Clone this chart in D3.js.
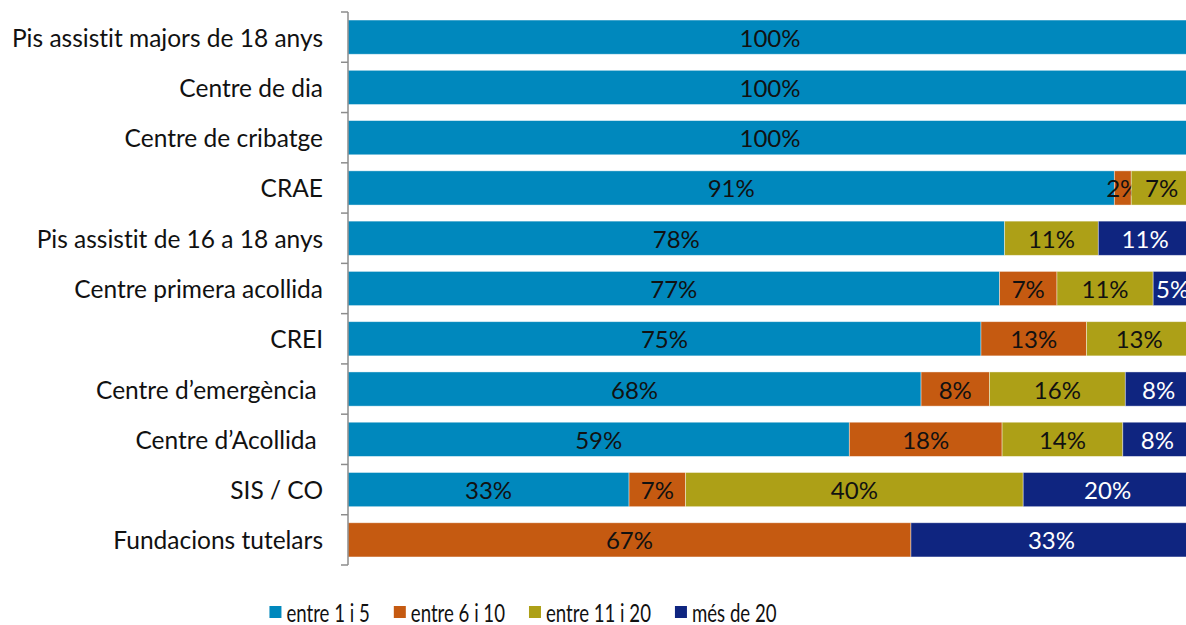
<!DOCTYPE html>
<html><head><meta charset="utf-8">
<script src="https://cdn.jsdelivr.net/npm/d3@7"></script>
<style>body{margin:0;background:#fff}svg{display:block}text{font-family:Lato,"Open Sans",sans-serif;font-variant-ligatures:none}text.cat{white-space:pre}</style>
</head><body><svg id="c" width="1186" height="625"></svg>
<script>
const categories = ["Pis assistit majors de 18 anys","Centre de dia","Centre de cribatge","CRAE","Pis assistit de 16 a 18 anys","Centre primera acollida","CREI","Centre d\u2019emergència ","Centre d\u2019Acollida ","SIS / CO","Fundacions tutelars"];
const seriesNames = ["entre 1 i 5","entre 6 i 10","entre 11 i 20","més de 20"];
const colors = ["#0088BD","#C55A11","#ADA017","#0F2580"];
const labelColors = ["#111","#111","#111","#fff"];
const s1 = [100,100,100,90.8,77.8,77.2,75,67.9,59.4,33.3,0];
const s2 = [0,0,0,2.0,0,6.8,12.5,8.1,18.1,6.7,66.7];
const s3 = [0,0,0,7.2,11.1,11.4,12.5,16.1,14.3,40,0];
const s4 = [0,0,0,0,11.1,4.6,0,7.9,8.2,20,33.3];
const seriesValues = [s1,s2,s3,s4];

const svg = d3.select("#c");
const mLeft = 348, mRight = 1192, mTop = 12, mBottom = 565;
const fs = 24.5;
const x = d3.scaleLinear().domain([0,100]).range([mLeft,mRight]);
const y = d3.scaleBand().domain(categories).range([mTop,mBottom]).paddingInner(0.32).paddingOuter(0.16);

const rows = categories.map((c,i)=>{const o={cat:c}; seriesNames.forEach((s,j)=>o[s]=seriesValues[j][i]); return o;});
const stack = d3.stack().keys(seriesNames)(rows);

const g = svg.append("g");
stack.forEach((layer,j)=>{
  const lg = g.append("g");
  lg.selectAll("rect").data(layer.filter(d=>d[1]-d[0]>0)).join("rect")
    .attr("x",d=>x(d[0])).attr("width",d=>x(d[1])-x(d[0]))
    .attr("y",d=>y(d.data.cat)).attr("height",y.bandwidth())
    .attr("fill",colors[j]).attr("stroke","#fff").attr("stroke-opacity",0.5).attr("stroke-width",0.8);
  lg.selectAll("text").data(layer.filter(d=>d[1]-d[0]>0)).join("text")
    .attr("x",d=>(x(d[0])+x(d[1]))/2).attr("y",d=>y(d.data.cat)+y.bandwidth()/2)
    .attr("text-anchor","middle").attr("dominant-baseline","central")
    .attr("font-size",fs-0.5).attr("fill",labelColors[j])
    .text(d=>d3.format(".0f")(d[1]-d[0])+"%");
});

// axis
const ax = svg.append("g");
ax.append("line").attr("x1",mLeft).attr("x2",mLeft).attr("y1",mTop).attr("y2",mBottom).attr("stroke","#8c8c8c").attr("stroke-width",1.5);
d3.range(categories.length+1).forEach(i=>{
  const yy = mTop + i*(mBottom-mTop)/categories.length;
  ax.append("line").attr("x1",mLeft-7).attr("x2",mLeft).attr("y1",yy).attr("y2",yy).attr("stroke","#8c8c8c").attr("stroke-width",1.5);
});
ax.selectAll("text.cat").data(categories).join("text").attr("class","cat")
  .attr("x",mLeft-25).attr("y",d=>y(d)+y.bandwidth()/2).attr("text-anchor","end").attr("dominant-baseline","central")
  .attr("font-size",fs).attr("fill","#111").text(d=>d);

// legend
const leg = svg.append("g");
const items = leg.selectAll("g").data(seriesNames).join("g");
items.append("rect").attr("width",12).attr("height",12).attr("y",606).attr("fill",(d,i)=>colors[i]);
const sx = 0.76;
const ltxt = items.append("text").attr("x",17).attr("y",612).attr("dominant-baseline","central").attr("font-size",fs).attr("fill","#111").text(d=>d);
let widths = [];
ltxt.each(function(){
  const w = sx*this.getComputedTextLength();
  d3.select(this).attr("textLength",w).attr("lengthAdjust","spacingAndGlyphs");
  widths.push(17+w);
});
const gap = 24;
const total = d3.sum(widths)+gap*(widths.length-1);
let cx = 523 - total/2;
items.each(function(d,i){d3.select(this).attr("transform",`translate(${cx},0)`); cx += widths[i]+gap;});
</script></body></html>
